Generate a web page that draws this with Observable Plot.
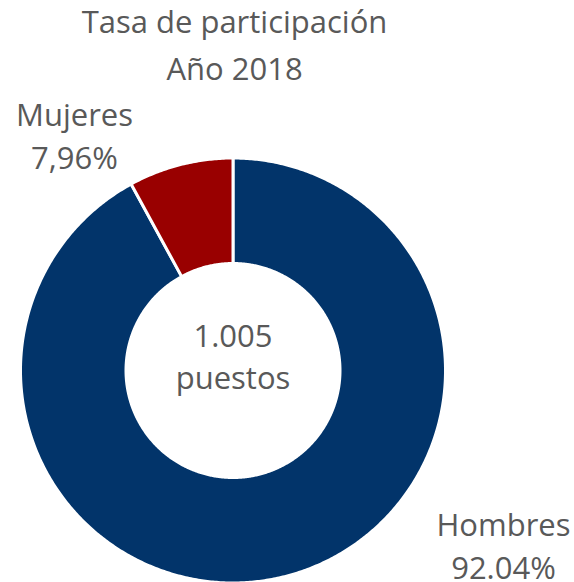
<!DOCTYPE html>
<html><head><meta charset="utf-8">
<script src="https://cdn.jsdelivr.net/npm/d3@7"></script>
<script src="https://cdn.jsdelivr.net/npm/@observablehq/plot@0.6"></script>
<style>body{margin:0;background:#fff}</style>
</head><body><div id="chart"></div>
<script>
// ---- data ----
const categories = ["Hombres", "Mujeres"];
const shares = [92.04, 7.96];
const shareLabels = ["92.04%", "7,96%"];
const totalLabel = "1.005";
const totalUnit = "puestos";
const titleLines = ["Tasa de participación", "Año 2018"];
const colors = ["#02346a", "#990000"];

// ---- layout ----
const W = 574, H = 582, CX = 232.5, CY = 370, R = 211;
const px = p => (p - CX) / R, py = p => (CY - p) / R;
const outerR = 212.5 / R, innerR = 107 / R;
const FS = 31, TXT = "#595959", FONT = "'Open Sans', sans-serif";
const labelPos = {Hombres: [503, 535], Mujeres: [74, 125]}; // first-line baselines (px)
const lineTop = (baseline, lh) => py(baseline - 0.71 * lh);

const arcs = d3.pie().sort(null).value(d => d.share)(
  categories.map((c, i) => ({category: c, share: shares[i], label: shareLabels[i]}))
);
const ringPts = [];
for (const a of arcs) {
  const n = Math.max(2, Math.ceil((a.endAngle - a.startAngle) / (2 * Math.PI) * 720));
  for (let k = 0; k <= n; k++) {
    const t = a.startAngle + (a.endAngle - a.startAngle) * k / n;
    ringPts.push({category: a.data.category, x: outerR * Math.sin(t), y: outerR * Math.cos(t)});
  }
  for (let k = n; k >= 0; k--) {
    const t = a.startAngle + (a.endAngle - a.startAngle) * k / n;
    ringPts.push({category: a.data.category, x: innerR * Math.sin(t), y: innerR * Math.cos(t)});
  }
}
const LH_LABEL = 44, LH_TITLE = 47, LH_CENTER = 43;
const labels = arcs.map(a => ({
  text: `${a.data.category}\n${a.data.label}`,
  x: px(labelPos[a.data.category][0]),
  y: lineTop(labelPos[a.data.category][1], LH_LABEL)
}));

const chart = Plot.plot({
  width: W, height: H, margin: 0,
  x: {domain: [px(0), px(W)], axis: null},
  y: {domain: [py(H), py(0)], axis: null},
  color: {domain: categories, range: colors},
  marks: [
    Plot.line(ringPts, {x: "x", y: "y", z: "category", fill: "category", stroke: "white", strokeWidth: 3, curve: "linear-closed"}),
    Plot.text(labels, {x: "x", y: "y", text: "text", lineAnchor: "top", lineHeight: LH_LABEL / FS, fontSize: FS, fontFamily: FONT, fill: TXT}),
    Plot.text([titleLines.join("\n")], {x: px(234), y: lineTop(33, LH_TITLE), text: d => d, lineAnchor: "top", lineHeight: LH_TITLE / FS, fontSize: FS, fontFamily: FONT, fill: TXT}),
    Plot.text([`${totalLabel}\n${totalUnit}`], {x: px(232.5), y: lineTop(346, LH_CENTER), text: d => d, lineAnchor: "top", lineHeight: LH_CENTER / FS, fontSize: FS, fontFamily: FONT, fill: TXT})
  ]
});
document.getElementById("chart").append(chart);
</script>
</body></html>
